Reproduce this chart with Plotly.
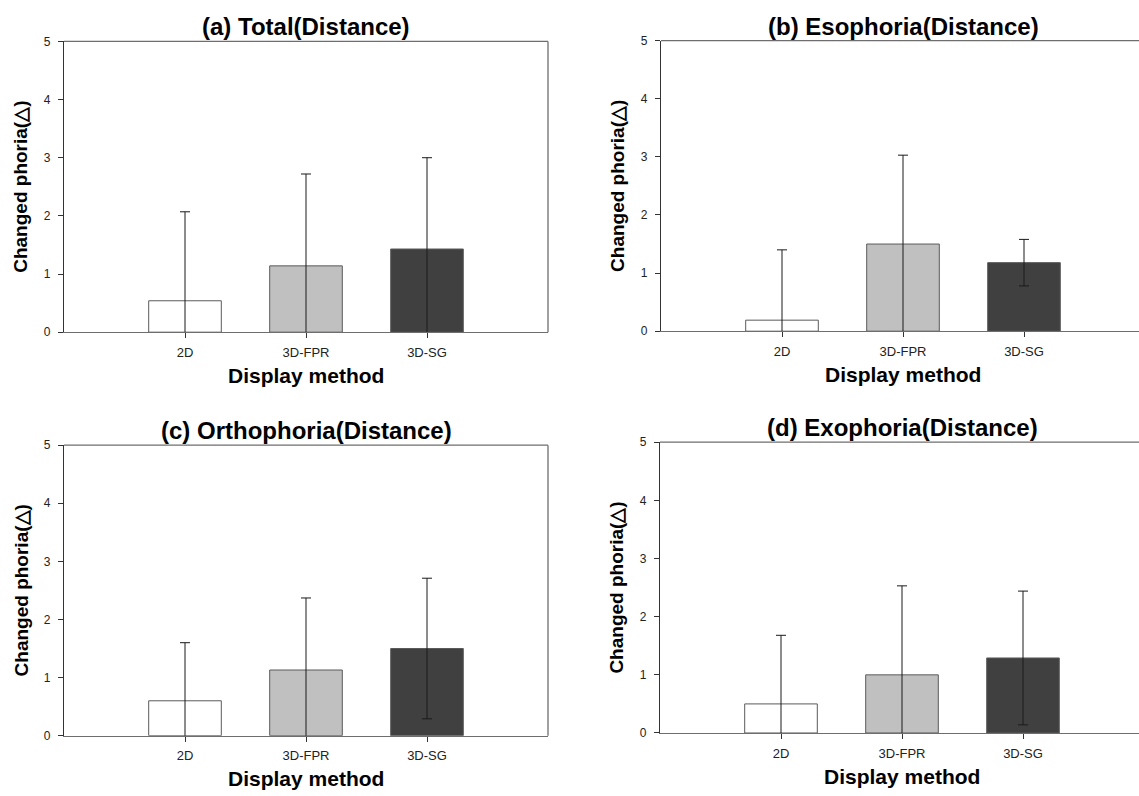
import plotly.graph_objects as go

W, H = 1139, 796

categories = ["2D", "3D-FPR", "3D-SG"]
bar_colors = ["#ffffff", "#c0c0c0", "#404040"]

titles = ["(a) Total(Distance)", "(b) Esophoria(Distance)",
          "(c) Orthophoria(Distance)", "(d) Exophoria(Distance)"]

total_mean = [0.54, 1.14, 1.43]
total_sd = [1.53, 1.58, 1.57]
eso_mean = [0.19, 1.50, 1.18]
eso_sd = [1.21, 1.53, 0.40]
ortho_mean = [0.60, 1.13, 1.50]
ortho_sd = [1.00, 1.24, 1.21]
exo_mean = [0.50, 1.00, 1.29]
exo_sd = [1.18, 1.53, 1.15]

means = [total_mean, eso_mean, ortho_mean, exo_mean]
sds = [total_sd, eso_sd, ortho_sd, exo_sd]

y_tick_vals = [0, 1, 2, 3, 4, 5]
y_title = "Changed phoria(△)"
x_title = "Display method"

# panel geometry in pixels: left, right(visible), full-right (uncropped), top, bottom
panels = [
    (64, 548, 548, 35, 331),
    (661, 1139, 1145, 34.3, 330),
    (64, 548, 548, 446, 741.7),
    (660, 1139, 1144, 443, 739),
]

FONT = "Liberation Sans, Arial, sans-serif"
fig = go.Figure()
annotations = []
shapes = []
layout_axes = {}

for i, (l, r, rfull, t, b) in enumerate(panels):
    n = i + 1
    xa = "x" if n == 1 else f"x{n}"
    ya = "y" if n == 1 else f"y{n}"
    xkey = "xaxis" if n == 1 else f"xaxis{n}"
    ykey = "yaxis" if n == 1 else f"yaxis{n}"
    fig.add_trace(go.Bar(
        x=categories, y=means[i],
        width=0.6,
        marker=dict(color=bar_colors, line=dict(color="#5a5a5a", width=1)),
        error_y=dict(type="data", array=sds[i], symmetric=True,
                     color="#1a1a1a", thickness=1, width=5),
        xaxis=xa, yaxis=ya, showlegend=False, cliponaxis=True,
        hoverinfo="skip",
    ))
    unit = (rfull - l) / 4.0
    xmax = -1 + (r - l) / unit
    layout_axes[xkey] = dict(
        domain=[l / W, r / W], anchor=ya, type="category",
        categoryorder="array", categoryarray=categories,
        range=[-1, xmax], showline=True, linecolor="#6e6e6e", linewidth=1.3,
        ticks="outside", ticklen=5, tickcolor="#333333", tickwidth=1,
        showgrid=False, zeroline=False, ticklabelstandoff=3,
        tickfont=dict(family=FONT, size=13, color="#222222"),
    )
    layout_axes[ykey] = dict(
        domain=[1 - b / H, 1 - t / H], anchor=xa, range=[0, 5],
        tickvals=y_tick_vals, showline=True, linecolor="#333333", linewidth=1.3,
        ticks="outside", ticklen=5, tickcolor="#333333", tickwidth=1,
        showgrid=False, zeroline=False, ticklabelstandoff=5,
        tickfont=dict(family=FONT, size=12, color="#222222"),
    )
    # top frame line
    shapes.append(dict(type="line", xref="paper", yref="paper",
                       x0=l / W, x1=r / W, y0=1 - t / H, y1=1 - t / H,
                       line=dict(color="#6e6e6e", width=1.3)))
    if r == rfull:
        shapes.append(dict(type="line", xref="paper", yref="paper",
                           x0=r / W, x1=r / W, y0=1 - t / H, y1=1 - b / H,
                           line=dict(color="#6e6e6e", width=1.3)))
    cx = (l + rfull) / 2
    # title
    annotations.append(dict(text=f"<b>{titles[i]}</b>", xref="paper", yref="paper",
                            x=cx / W, y=1 - (t + 1) / H, xanchor="center", yanchor="bottom",
                            showarrow=False, font=dict(family=FONT, size=24, color="#000000")))
    # y title
    ytx = l - 43
    annotations.append(dict(text=f"<b>{y_title}</b>", xref="paper", yref="paper",
                            x=ytx / W, y=1 - ((t + b) / 2) / H, xanchor="center", yanchor="middle",
                            textangle=-90, showarrow=False,
                            font=dict(family=FONT, size=19, color="#000000")))
    # x title
    annotations.append(dict(text=f"<b>{x_title}</b>", xref="paper", yref="paper",
                            x=cx / W, y=1 - (b + 44) / H, xanchor="center", yanchor="middle",
                            showarrow=False, font=dict(family=FONT, size=21, color="#000000")))

fig.update_layout(
    width=W, height=H, margin=dict(l=0, r=0, t=0, b=0),
    paper_bgcolor="white", plot_bgcolor="white",
    annotations=annotations, shapes=shapes, bargap=0.4,
    hovermode=False,
    **layout_axes,
)

fig.write_html("out.html", config={"displayModeBar": False},
               post_script="document.body.style.margin='0';")
